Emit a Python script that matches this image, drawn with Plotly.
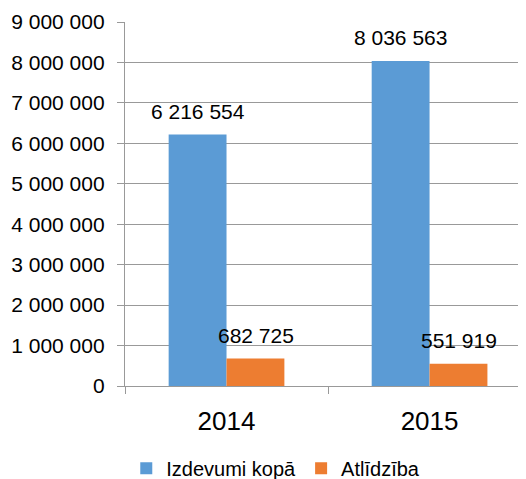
import plotly.graph_objects as go

categories = ["2014", "2015"]
series_names = ["Izdevumi kopā", "Atlīdzība"]
izdevumi = [6216554, 8036563]
atlidziba = [682725, 551919]
y_ticks = [0, 1000000, 2000000, 3000000, 4000000, 5000000, 6000000, 7000000, 8000000, 9000000]

colors = ["#5B9BD5", "#ED7D31"]
FONT = "Liberation Sans, Arial, sans-serif"
GRID = "#999999"

def fmt(v):
    return f"{v:,}".replace(",", " ")

fig = go.Figure()
for name, vals, c in zip(series_names, [izdevumi, atlidziba], colors):
    fig.add_trace(go.Bar(x=categories, y=vals, name=name, marker=dict(color=c, line=dict(width=0))))

for i, vals in enumerate([izdevumi, atlidziba]):
    for j, v in enumerate(vals):
        fig.add_annotation(x=j, y=v, xref="x", yref="y", text=fmt(v), showarrow=False,
                           xshift=-29 if i == 0 else 29, yshift=23, yanchor="middle",
                           font=dict(family=FONT, size=21, color="#000000"))

# page body has an 8px margin; compensate so the plot lands where the reference has it
fig.update_layout(
    width=518, height=471,
    margin=dict(l=117, r=0, t=14, b=93, autoexpand=False),
    paper_bgcolor="white", plot_bgcolor="white",
    barmode="group", bargap=0.43, bargroupgap=0,
    separators=". ",
    showlegend=True,
    legend=dict(orientation="h", x=0.376, xanchor="center", y=-0.226, yanchor="middle",
                font=dict(family=FONT, size=20, color="#000000"), itemwidth=30),
    font=dict(family=FONT, color="#000000"),
)
fig.update_xaxes(type="category", range=[-0.5, 1.475], tickson="boundaries",
                 ticks="outside", ticklen=7, tickcolor=GRID, tickwidth=1.3,
                 showline=True, linecolor=GRID, linewidth=1.3,
                 showgrid=False, tickfont=dict(family=FONT, size=26, color="#000000"),
                 ticklabelstandoff=12)
fig.update_yaxes(range=[0, 9000000], tickvals=y_ticks, tickformat=",d",
                 ticks="outside", ticklen=7, tickcolor=GRID, tickwidth=1.3,
                 showline=True, linecolor=GRID, linewidth=1.3,
                 showgrid=True, gridcolor=GRID, gridwidth=1.3, zeroline=False,
                 tickfont=dict(family=FONT, size=21, color="#000000"),
                 ticklabelstandoff=8)

fig.write_html("out.html")
